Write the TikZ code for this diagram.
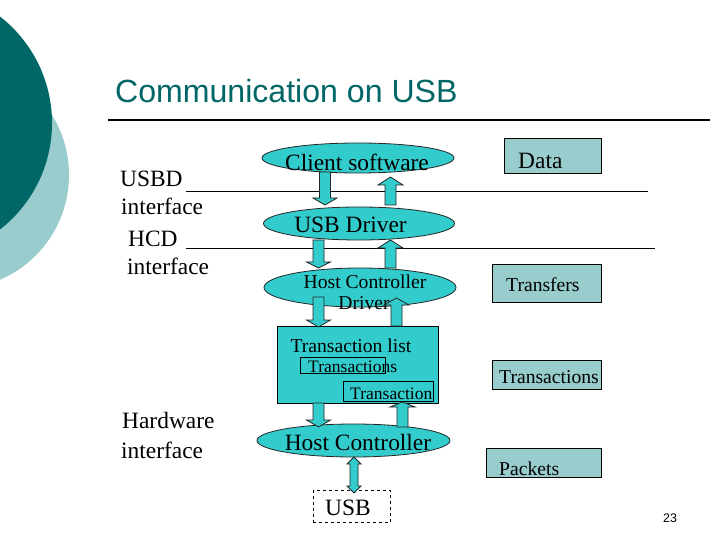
\documentclass[tikz,border=0pt]{standalone}
\usepackage{fontspec}
\setmainfont{Liberation Serif}
\newfontfamily\arialf{Liberation Sans}
\usetikzlibrary{shapes.geometric}
\definecolor{darkteal}{HTML}{006666}
\definecolor{lightteal}{HTML}{99CCCC}
\definecolor{cyanfill}{HTML}{33CCCC}
\tikzset{
  ell/.style={ellipse, draw=black!85, line width=0.8bp, fill=cyanfill, inner sep=0pt},
  rbox/.style={draw=black, line width=0.8bp, fill=lightteal, inner sep=0pt, anchor=north west},
  ibox/.style={draw=black, line width=0.8bp, inner sep=0pt, anchor=north west},
  blk/.style={draw=black!85, line width=0.8bp, fill=cyanfill},
  big/.style={font=\fontsize{23.5}{26}\selectfont, inner sep=0pt},
  mid/.style={font=\fontsize{19.7}{22}\selectfont, inner sep=0pt},
  sml/.style={font=\fontsize{17.6}{20}\selectfont, inner sep=0pt},
  thinline/.style={line width=1bp},
}
% down block arrow: x centre, top, tip, head length
\newcommand\blkdown[4]{%
  \draw[blk] (#1-5.5,#2) -- (#1+5.5,#2) -- (#1+5.5,#3-#4) -- (#1+12,#3-#4) -- (#1,#3)
    -- (#1-12,#3-#4) -- (#1-5.5,#3-#4) -- cycle;}
% up block arrow: x centre, bottom, tip, head length
\newcommand\blkup[4]{%
  \draw[blk] (#1-5.5,#2) -- (#1+5.5,#2) -- (#1+5.5,#3+#4) -- (#1+12.5,#3+#4) -- (#1,#3)
    -- (#1-12.5,#3+#4) -- (#1-5.5,#3+#4) -- cycle;}
\begin{document}
\begin{tikzpicture}[x=1bp, y=-1bp]
\useasboundingbox (0,0) rectangle (720,540);
\fill[white] (0,0) rectangle (720,540);
% decorative circles
\fill[lightteal] (-45,175) circle (114);
\fill[darkteal] (-83,123) circle (135);
% title
\node[anchor=base west, inner sep=0pt, text=darkteal, font=\arialf\fontsize{32.2}{35}\selectfont] (title) at (115,103) {Communication on USB};
\draw[line width=2.5bp] (108,120) -- (710,120);
% left labels
\node[big, anchor=base west] (usbd) at (120,187) {USBD};
\node[big, anchor=base west] (usbdif) at (121,215) {interface};
\node[big, anchor=base west] (hcd) at (128,247) {HCD};
\node[big, anchor=base west] (hcdif) at (127,275) {interface};
\node[big, anchor=base west] (hw) at (122,428) {Hardware};
\node[big, anchor=base west] (hwif) at (121,458) {interface};
\draw[thinline] (186,192) -- (648,192);
\draw[thinline] (186,249) -- (655,249);
% ellipses
\node[ell, minimum width=192bp, minimum height=30bp] (cs) at (358,158) {};
\node[big, anchor=base] (cst) at (357,171) {Client software};
\node[ell, minimum width=191bp, minimum height=33bp] (ud) at (359,223.5) {};
\node[big, anchor=base] (udt) at (350.5,233) {USB Driver};
\node[ell, minimum width=192bp, minimum height=39bp] (hcdr) at (360,287.5) {};
\node[mid, anchor=base] (hcdrt) at (365,288) {Host Controller};
\node[mid, anchor=base] (hcdrt2) at (364,309) {Driver};
% transaction list
\node[rbox, fill=cyanfill, minimum width=161bp, minimum height=77bp] (tl) at (277,326) {};
\node[mid, anchor=base] (tlt) at (351,352) {Transaction list};
\node[ibox, minimum width=85bp, minimum height=16bp] (tsb) at (300,357) {};
\node[sml, anchor=base west] (tst) at (308,372) {Transactions};
\node[ibox, minimum width=90bp, minimum height=20bp] (tb) at (343,381) {};
\node[sml, anchor=base west] (tt) at (350,399) {Transaction};
% host controller
\node[ell, minimum width=193bp, minimum height=33bp] (hc) at (353.5,440.5) {};
\node[big, anchor=base] (hct) at (358,450) {Host Controller};
% USB
\node[ibox, dashed, minimum width=77bp, minimum height=32bp] (usb) at (313,490) {};
\node[big, anchor=base] (usbt) at (348,515) {USB};
% block arrows
\blkdown{325}{172}{205}{7}
\blkup{390.5}{205}{177}{8}
\blkdown{318.5}{240}{268}{6}
\blkup{390.5}{268}{240}{8}
\blkdown{318.5}{297}{327}{7}
\blkup{396.5}{326}{298}{7}
\blkdown{318.5}{403}{427}{7}
\blkup{402.5}{427}{402}{5}
\draw[blk] (350,464) -- (347,464) -- (354,457) -- (361,464) -- (358,464) -- (358,486)
  -- (361,486) -- (354,493) -- (347,486) -- (350,486) -- cycle;
% right boxes
\node[rbox, minimum width=97bp, minimum height=35bp] (data) at (504,138) {};
\node[big, anchor=base west] (datat) at (518,169) {Data};
\node[rbox, minimum width=109bp, minimum height=38bp] (tr) at (492,264) {};
\node[mid, anchor=base west] (trt) at (506,291) {Transfers};
\node[rbox, minimum width=109bp, minimum height=29bp] (ta) at (492,360) {};
\node[mid, anchor=base west] (tat) at (499,383) {Transactions};
\node[rbox, minimum width=115bp, minimum height=29bp] (pk) at (486,448) {};
\node[mid, anchor=base west] (pkt) at (499,475) {Packets};
% page number
\node[anchor=base west, inner sep=0pt, font=\arialf\fontsize{12.5}{14}\selectfont] (pg) at (663,522) {23};
\end{tikzpicture}
\end{document}
